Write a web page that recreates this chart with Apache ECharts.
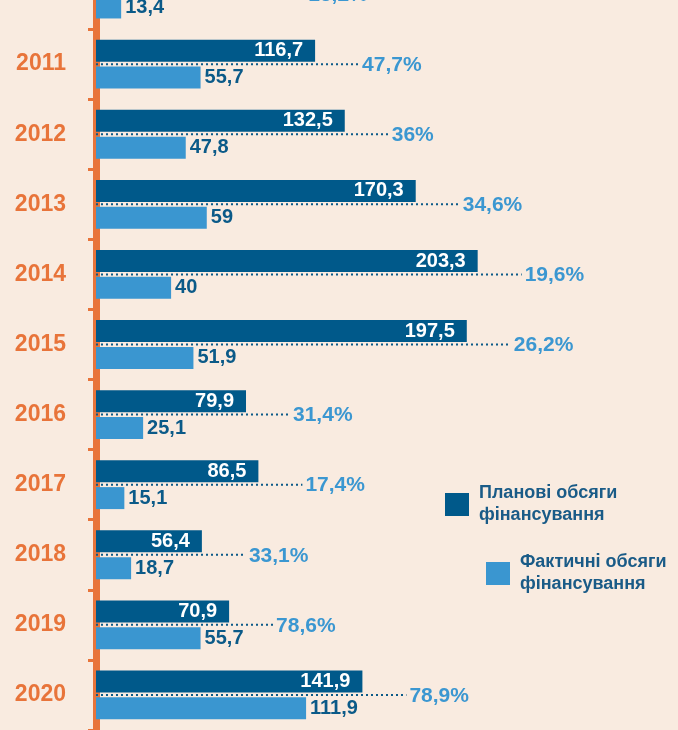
<!DOCTYPE html>
<html>
<head>
<meta charset="utf-8">
<script src="https://cdn.jsdelivr.net/npm/echarts@6/dist/echarts.min.js"></script>
<style>
  html, body { margin: 0; padding: 0; background: #f9ebe0; overflow: hidden; }
  #chart { width: 678px; height: 771px; margin-top: -41px; }
</style>
</head>
<body>
<div id="chart"></div>
<script>
// дані
var years = ['2010', '2011', '2012', '2013', '2014', '2015', '2016', '2017', '2018', '2019', '2020'];
var planned = [88.0, 116.7, 132.5, 170.3, 203.3, 197.5, 79.9, 86.5, 56.4, 70.9, 141.9];
var actual = [13.4, 55.7, 47.8, 59, 40, 51.9, 25.1, 15.1, 18.7, 55.7, 111.9];
var shareLabels = ['15,2%', '47,7%', '36%', '34,6%', '19,6%', '26,2%', '31,4%', '17,4%', '33,1%', '78,6%', '78,9%'];

var FONT = '"Liberation Sans", Arial, sans-serif';
var dark = '#00598a';
var light = '#3a96d0';
var orange = '#e8743a';

function fmt(v) {
  return String(v).replace('.', ',');
}

// пунктир між стовпцями + відсоток
function renderShare(params, api) {
  var idx = api.value(0);
  var v = api.value(1);
  var p0 = api.coord([0, idx]);
  var p1 = api.coord([v, idx]);
  var x2 = p1[0] + 44;
  return {
    type: 'group',
    children: [
      {
        type: 'line',
        shape: { x1: p0[0], y1: p0[1], x2: x2, y2: p0[1] },
        style: { stroke: '#0b5a88', lineWidth: 2, lineDash: [2, 3] }
      },
      {
        type: 'text',
        style: {
          text: shareLabels[params.dataIndex],
          x: x2 + 3,
          y: p0[1] + 1,
          align: 'left',
          verticalAlign: 'middle',
          fill: '#3b97d1',
          fontSize: 21,
          fontWeight: 'bold',
          fontFamily: FONT
        }
      }
    ]
  };
}

var legendText = { color: '#1a5b87', fontSize: 18, fontWeight: 'bold', lineHeight: 22, padding: [13, 0, 0, 5] };

var myChart = echarts.init(document.getElementById('chart'));
var option = {
  backgroundColor: '#f9ebe0',
  animation: false,
  textStyle: { fontFamily: FONT },
  grid: { left: 96, right: 0, top: 0, bottom: 0 },
  legend: [
    {
      data: ['Планові обсяги фінансування'],
      left: 445, top: 476 + 41,
      padding: 0,
      itemWidth: 24, itemHeight: 23,
      icon: 'rect',
      formatter: function (n) { return n.replace(' ф', '\nф'); },
      textStyle: legendText
    },
    {
      data: ['Фактичні обсяги фінансування'],
      left: 486, top: 545 + 41,
      padding: 0,
      itemWidth: 24, itemHeight: 23,
      icon: 'rect',
      formatter: function (n) { return n.replace(' ф', '\nф'); },
      textStyle: legendText
    }
  ],
  xAxis: {
    type: 'value',
    min: 0,
    max: 310,
    show: false
  },
  yAxis: {
    type: 'category',
    data: years,
    inverse: true,
    offset: 4,
    axisLine: { lineStyle: { color: orange, width: 7 } },
    axisTick: { show: true, length: 8, lineStyle: { color: orange, width: 3 } },
    axisLabel: { color: orange, fontSize: 23, fontWeight: 'bold', margin: 26, fontFamily: FONT, padding: [2, 0, 0, 0] }
  },
  series: [
    {
      name: 'Планові обсяги фінансування',
      type: 'bar',
      data: planned,
      barWidth: 22,
      barGap: '22%',
      itemStyle: { color: dark },
      label: {
        show: true,
        position: 'insideRight',
        distance: 12,
        color: '#ffffff',
        fontSize: 20,
        fontWeight: 'bold',
        fontFamily: FONT,
        formatter: function (p) { return fmt(p.value); }
      },
      z: 3
    },
    {
      name: 'Фактичні обсяги фінансування',
      type: 'bar',
      data: actual,
      barWidth: 22,
      itemStyle: { color: light },
      label: {
        show: true,
        position: 'right',
        distance: 4,
        color: '#0b5a88',
        fontSize: 20,
        fontWeight: 'bold',
        fontFamily: FONT,
        formatter: function (p) { return fmt(p.value); }
      },
      z: 3
    },
    {
      type: 'custom',
      renderItem: renderShare,
      data: years.map(function (y, i) { return [i, planned[i]]; }),
      encode: { y: 0, x: 1 },
      z: 2,
      silent: true
    }
  ]
};
myChart.setOption(option);
</script>
</body>
</html>
